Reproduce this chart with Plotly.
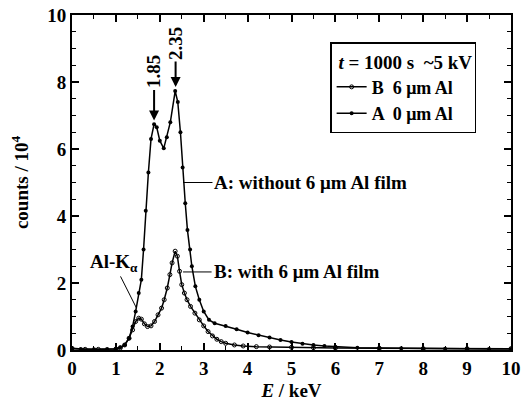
import plotly.graph_objects as go

# Curve A: without Al film (filled markers)
a_energy = [0.0, 0.2, 0.5, 0.8, 1.0, 1.1, 1.2, 1.3, 1.38, 1.45, 1.52, 1.58, 1.63, 1.68, 1.74,
            1.80, 1.87, 1.93, 2.00, 2.09, 2.16, 2.24, 2.35, 2.41, 2.47, 2.52, 2.58, 2.63,
            2.69, 2.73, 2.81, 2.90, 3.00, 3.12, 3.25, 3.5, 3.75, 4.0, 4.25, 4.5, 4.75,
            5.0, 5.25, 5.5, 5.75, 6.0, 6.5, 7.0, 7.5, 8.0, 8.5, 9.0, 9.5, 10.0]
a_counts = [0.04, 0.03, 0.02, 0.03, 0.04, 0.08, 0.15, 0.35, 0.7, 1.15, 1.7, 2.1, 3.0, 4.16, 5.3,
            6.3, 6.74, 6.65, 6.25, 6.02, 6.35, 6.8, 7.73, 7.4, 6.5, 5.45, 4.38, 3.58,
            3.0, 2.5, 1.9, 1.5, 1.15, 0.9, 0.8, 0.72, 0.62, 0.52, 0.44, 0.37, 0.3,
            0.24, 0.19, 0.15, 0.12, 0.1, 0.07, 0.06, 0.05, 0.04, 0.04, 0.03, 0.03, 0.03]

# Curve B: with 6 um Al film (open markers)
b_energy = [0.0, 0.3, 0.6, 1.0, 1.1, 1.2, 1.3, 1.38, 1.45, 1.52, 1.58, 1.65, 1.72, 1.80, 1.88,
            1.96, 2.04, 2.10, 2.17, 2.23, 2.28, 2.35, 2.40, 2.45, 2.50, 2.56, 2.62, 2.70,
            2.80, 2.90, 3.00, 3.10, 3.20, 3.30, 3.40, 3.50, 3.70, 3.90, 4.2, 4.5, 5.0,
            5.5, 6.0, 7.0, 8.0, 9.0, 10.0]
b_counts = [0.05, 0.02, 0.02, 0.03, 0.06, 0.15, 0.35, 0.6, 0.85, 0.95, 0.92, 0.78, 0.7, 0.72, 0.85,
            1.05, 1.25, 1.5, 1.85, 2.25, 2.6, 2.95, 2.8, 2.35, 1.95, 1.7, 1.5, 1.3,
            1.1, 0.9, 0.72, 0.55, 0.42, 0.32, 0.25, 0.2, 0.15, 0.12, 0.1, 0.09, 0.08,
            0.07, 0.06, 0.05, 0.04, 0.04, 0.04]

x_ticks = [0, 1, 2, 3, 4, 5, 6, 7, 8, 9, 10]
y_ticks = [0, 2, 4, 6, 8, 10]

FONT = "Liberation Serif"
font = dict(family=FONT, size=19, color="black", weight="bold")
legend_font = dict(family=FONT, size=18, color="black", weight="bold")
legend_title_font = dict(family=FONT, size=19, color="black", weight="bold")

fig = go.Figure()
fig.add_trace(go.Scatter(
    x=b_energy, y=b_counts, mode="lines+markers", name="B  6 μm Al",
    line=dict(color="black", width=1.5),
    marker=dict(symbol="circle-open", size=4, color="black", line=dict(width=1)),
))
fig.add_trace(go.Scatter(
    x=a_energy, y=a_counts, mode="lines+markers", name="A  0 μm Al",
    line=dict(color="black", width=1.5),
    marker=dict(symbol="circle", size=4, color="black"),
))

axis_common = dict(
    showline=True, linecolor="black", linewidth=2, mirror="ticks",
    ticks="inside", ticklen=7, tickwidth=1.5, tickcolor="black",
    showgrid=False, zeroline=False, automargin=False,
    tickfont=font,
)

fig.update_xaxes(
    range=[0, 10], tickvals=x_ticks, ticktext=[str(v) for v in x_ticks],
    minor=dict(dtick=0.5, ticks="inside", ticklen=4, tickcolor="black", tickwidth=1.2),
    title=dict(text="<i>E</i> / keV", font=font, standoff=6),
    **axis_common,
)
fig.update_yaxes(
    range=[0, 10], tickvals=y_ticks, ticktext=[str(v) for v in y_ticks],
    minor=dict(dtick=0.5, ticks="inside", ticklen=4, tickcolor="black", tickwidth=1.2),
    title=dict(text="counts / 10<sup>4</sup>", font=font, standoff=14),
    **axis_common,
)

annotations = [
    dict(x=2.53, y=5.0, ax=3.2, ay=5.0, axref="x", ayref="y", xref="x", yref="y",
         text="A: without 6 μm Al film", xanchor="left", showarrow=True,
         arrowhead=0, arrowwidth=1, arrowcolor="black", font=font),
    dict(x=2.53, y=2.33, ax=3.18, ay=2.33, axref="x", ayref="y", xref="x", yref="y",
         text="B: with 6 μm Al film", xanchor="left", showarrow=True,
         arrowhead=0, arrowwidth=1, arrowcolor="black", font=font),
    dict(x=1.47, y=1.25, ax=0.95, ay=2.6, axref="x", ayref="y", xref="x", yref="y",
         text="Al-K<sub>α</sub>", showarrow=True,
         arrowhead=0, arrowwidth=1, arrowcolor="black", font=font),
    dict(x=1.87, y=6.85, ax=1.87, ay=8.3, axref="x", ayref="y", xref="x", yref="y",
         text="1.85", textangle=-90, showarrow=True,
         arrowhead=2, arrowsize=1, arrowwidth=2, arrowcolor="black", font=font),
    dict(x=2.36, y=7.85, ax=2.36, ay=9.15, axref="x", ayref="y", xref="x", yref="y",
         text="2.35", textangle=-90, showarrow=True,
         arrowhead=2, arrowsize=1, arrowwidth=2, arrowcolor="black", font=font),
]

fig.update_layout(
    width=525, height=408,
    margin=dict(l=72, r=14, t=15, b=58, autoexpand=False),
    paper_bgcolor="white", plot_bgcolor="white",
    showlegend=True,
    legend=dict(
        x=0.588, y=0.918, xanchor="left", yanchor="top",
        bgcolor="white", bordercolor="black", borderwidth=1.5,
        font=legend_font,
        title=dict(text=" <i>t</i> = 1000 s  ~5 kV", font=legend_title_font),
        tracegroupgap=0, itemwidth=30,
    ),
    annotations=annotations,
)

fig.write_html("out.html", post_script="document.body.style.margin='0';",
               config={"displayModeBar": False})
